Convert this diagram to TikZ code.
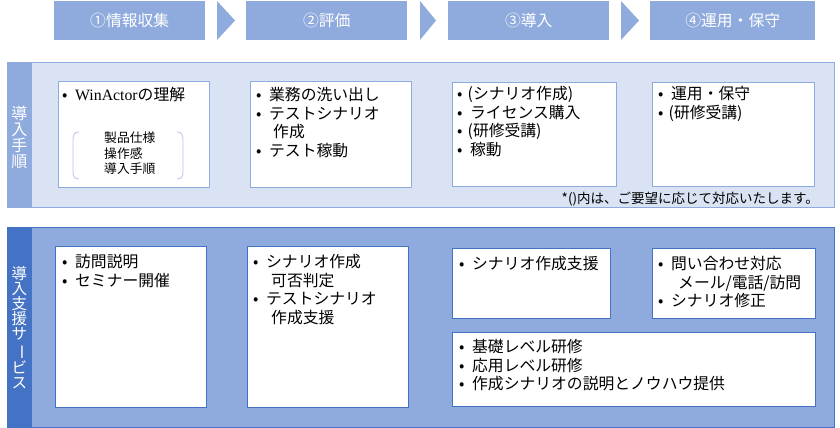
\documentclass[tikz,border=0pt]{standalone}
\usepackage{fontspec}
\setmainfont{Noto Sans CJK JP}
\newfontfamily\lat{Liberation Serif}
\definecolor{hdrblue}{HTML}{8FAADC}
\definecolor{lightbg}{HTML}{DAE3F3}
\definecolor{darkblue}{HTML}{4472C4}
\definecolor{brk}{HTML}{B4C7E7}
\newcommand{\bu}{\makebox[13pt][l]{•}}
\newcommand{\bp}{\makebox[10.5pt][l]{•}}
\newcommand{\ind}{\hspace*{15pt}}
\begin{document}
\begin{tikzpicture}[x=1pt,y=-1pt,
  hdr/.style={fill=hdrblue, draw=none, anchor=north west, inner sep=0,
    text=white, font=\fontsize{15.8}{18}\selectfont},
  sect/.style={anchor=north west, inner sep=0, line width=0.8pt},
  ibox/.style={anchor=north west, inner sep=0, fill=white, line width=0.9pt},
  txt/.style={anchor=north west, inner sep=0, align=left,
    font=\fontsize{15.8}{18.6}\selectfont},
  vtxt/.style={inner sep=0, align=center, text=white},
]
\useasboundingbox (0,0) rectangle (840,428);

% header row
\node[hdr, minimum width=151pt, minimum height=39pt] (h1) at (54,1) {①情報収集};
\node[hdr, minimum width=161pt, minimum height=39pt] (h2) at (246,1) {②評価};
\node[hdr, minimum width=161pt, minimum height=39pt] (h3) at (448,1) {③導入};
\node[hdr, minimum width=165pt, minimum height=39pt] (h4) at (650,1) {④運用・保守};
\fill[hdrblue] (217,1) -- (235,20.5) -- (217,40) -- cycle;
\fill[hdrblue] (420,1) -- (436,20.5) -- (420,40) -- cycle;
\fill[hdrblue] (621,1) -- (639,20.5) -- (621,40) -- cycle;

% section 1
\node[sect, fill=lightbg, draw=hdrblue, minimum width=827pt, minimum height=145pt] (s1) at (7,62) {};
\fill[hdrblue] (s1.north west) rectangle ([xshift=25pt]s1.south west);
\draw[hdrblue, line width=0.8pt] (s1.north west) rectangle (s1.south east);
\node[vtxt, font=\fontsize{16}{16}\selectfont] (v1) at (19.5,137) {導\\入\\手\\順};

\node[ibox, draw=hdrblue, minimum width=151pt, minimum height=106pt] (a) at (58,81) {};
\node[ibox, draw=hdrblue, minimum width=161pt, minimum height=106pt] (b) at (250,81) {};
\node[ibox, draw=hdrblue, minimum width=164pt, minimum height=104pt] (c) at (452,82) {};
\node[ibox, draw=hdrblue, minimum width=162pt, minimum height=104pt] (d) at (652,82) {};

\node[txt] (ta) at (62,87) {\bu{\lat WinActor}の理解};
\node[txt] (tb) at (256,87) {\bu 業務の洗い出し\\\bu テストシナリオ\\\ind\hspace*{2pt}作成\\\bu テスト稼動};
\node[txt] (tc) at (457,86) {\bp(シナリオ作成)\\\bu ライセンス購入\\\bp(研修受講)\\\bu 稼動};
\node[txt] (td) at (658,86) {\bu 運用・保守\\\bp(研修受講)};

% bracket group
\node[txt, font=\fontsize{12.8}{15.5}\selectfont] (tbr) at (104,132) {製品仕様\\操作感\\導入手順};
\draw[brk, line width=0.8pt] (79,132) .. controls (74,132) and (73,135) .. (73,140) -- (73,171) .. controls (73,176) and (74,179) .. (79,179);
\draw[brk, line width=0.8pt] (177,132) .. controls (182,132) and (183,135) .. (183,140) -- (183,171) .. controls (183,176) and (182,179) .. (177,179);

\node[anchor=east, inner sep=0, font=\fontsize{13.5}{15}\selectfont] (note) at (819,199) {*()内は、ご要望に応じて対応いたします。};

% section 2
\node[sect, fill=hdrblue, draw=darkblue, minimum width=827pt, minimum height=200pt] (s2) at (7,227) {};
\fill[darkblue] (s2.north west) rectangle ([xshift=25pt]s2.south west);
\node[vtxt, font=\fontsize{15.5}{15.2}\selectfont] (v2) at (19.5,327.5) {導\\入\\支\\援\\サ\\\rotatebox[origin=c]{-90}{ー}\\ビ\\ス};

\node[ibox, draw=darkblue, minimum width=151pt, minimum height=161pt] (e) at (55,246) {};
\node[ibox, draw=darkblue, minimum width=161pt, minimum height=161pt] (f) at (247,246) {};
\node[ibox, draw=darkblue, minimum width=158pt, minimum height=70pt] (g) at (452,248) {};
\node[ibox, draw=darkblue, minimum width=163pt, minimum height=70pt] (h) at (652,248) {};
\node[ibox, draw=darkblue, minimum width=363pt, minimum height=74pt] (i) at (452,332) {};

\node[txt] (te) at (62,254) {\bu 訪問説明\\\bu セミナー開催};
\node[txt] (tf) at (253,254) {\bu シナリオ作成\\\ind\hspace*{3pt}可否判定\\\bu テストシナリオ\\\ind\hspace*{3pt}作成支援};
\node[txt] (tg) at (459,256) {\bu シナリオ作成支援};
\node[txt] (th) at (658,256) {\bu 問い合わせ対応\\\ind\hspace*{5pt}メール/電話/訪問\\\bu シナリオ修正};
\node[txt] (ti) at (459,339) {\bu 基礎レベル研修\\\bu 応用レベル研修\\\bu 作成シナリオの説明とノウハウ提供};
\end{tikzpicture}
\end{document}
